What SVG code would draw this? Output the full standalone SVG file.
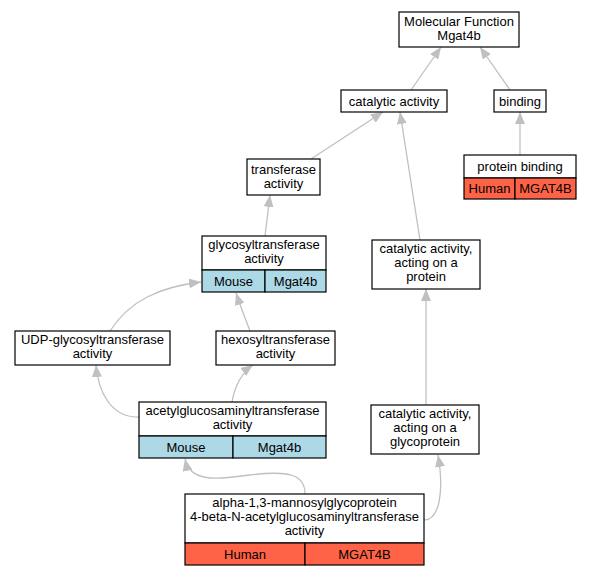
<svg xmlns="http://www.w3.org/2000/svg" width="592" height="576" viewBox="0 0 592 576">
<style>
.box{fill:#fff;stroke:#000;stroke-width:1.2}
.blue{fill:#add8e6;stroke:#000;stroke-width:1.2}
.red{fill:#ff6347;stroke:#000;stroke-width:1.2}
text{font-family:"Liberation Sans",Arial,sans-serif;font-size:13px;text-anchor:middle;fill:#000}
.edge{fill:none;stroke:#c0c0c0;stroke-width:1.3;marker-end:url(#arr)}
</style>
<defs>
<marker id="arr" markerUnits="userSpaceOnUse" markerWidth="13" markerHeight="10" viewBox="0 0 13 10" refX="12" refY="5" orient="auto">
<path d="M0,0 L12,5 L0,10 Z" fill="#c0c0c0"/>
</marker>
</defs>
<rect width="592" height="576" fill="#fff"/>
<g id="edges">
<path class="edge" d="M411,90 L441,47"/>
<path class="edge" d="M510,90 L480,47"/>
<path class="edge" d="M520,155 L520,112"/>
<path class="edge" d="M311,159 L383,112"/>
<path class="edge" d="M420,240 L400,112"/>
<path class="edge" d="M265,236 L270,195"/>
<path class="edge" d="M110,331 C130,300 160,287 201,282"/>
<path class="edge" d="M250,331 C245,318 240,305 236,293"/>
<path class="edge" d="M139,417 C110,418 98,390 96,365"/>
<path class="edge" d="M232,402 C235,385 243,372 253,365"/>
<path class="edge" d="M305,494 C305,475 290,470 250,475 C215,480 190,482 185,459"/>
<path class="edge" d="M424,520 C440,520 444,490 438,455"/>
<path class="edge" d="M426,405 L426,289"/>
</g>
<g id="mf">
<rect class="box" x="399" y="12" width="120" height="35"/>
<text x="459" y="26">Molecular Function</text>
<text x="459" y="40">Mgat4b</text>
</g>
<g id="catalytic">
<rect class="box" x="341" y="90" width="106" height="22"/>
<text x="394" y="105.5">catalytic activity</text>
</g>
<g id="binding">
<rect class="box" x="494" y="90" width="52" height="22"/>
<text x="520" y="105.5">binding</text>
</g>
<g id="proteinbinding">
<rect class="box" x="464" y="155" width="112" height="23"/>
<text x="520" y="170.5">protein binding</text>
<rect class="red" x="464" y="178" width="51" height="21"/>
<rect class="red" x="515" y="178" width="61" height="21"/>
<text x="489.5" y="192.5">Human</text>
<text x="545.5" y="192.5">MGAT4B</text>
</g>
<g id="transferase">
<rect class="box" x="247" y="159" width="73" height="36"/>
<text x="283.5" y="174">transferase</text>
<text x="283.5" y="188">activity</text>
</g>
<g id="glyco">
<rect class="box" x="202" y="236" width="124" height="34"/>
<text x="264" y="249">glycosyltransferase</text>
<text x="264" y="263">activity</text>
<rect class="blue" x="202" y="270" width="63" height="22"/>
<rect class="blue" x="265" y="270" width="61" height="22"/>
<text x="233.5" y="285.5">Mouse</text>
<text x="295.5" y="285.5">Mgat4b</text>
</g>
<g id="catprot">
<rect class="box" x="372" y="240" width="108" height="49"/>
<text x="426" y="253">catalytic activity,</text>
<text x="426" y="267">acting on a</text>
<text x="426" y="281">protein</text>
</g>
<g id="udp">
<rect class="box" x="15" y="331" width="155" height="34"/>
<text x="92.5" y="344">UDP-glycosyltransferase</text>
<text x="92.5" y="358">activity</text>
</g>
<g id="hexosyl">
<rect class="box" x="216" y="331" width="119" height="34"/>
<text x="275.5" y="344">hexosyltransferase</text>
<text x="275.5" y="358">activity</text>
</g>
<g id="acetyl">
<rect class="box" x="139" y="402" width="187" height="34"/>
<text x="232.5" y="415">acetylglucosaminyltransferase</text>
<text x="232.5" y="429">activity</text>
<rect class="blue" x="139" y="436" width="94" height="22"/>
<rect class="blue" x="233" y="436" width="93" height="22"/>
<text x="186" y="451.5">Mouse</text>
<text x="279.5" y="451.5">Mgat4b</text>
</g>
<g id="catglyco">
<rect class="box" x="371" y="405" width="108" height="49"/>
<text x="425" y="418">catalytic activity,</text>
<text x="425" y="432">acting on a</text>
<text x="425" y="446">glycoprotein</text>
</g>
<g id="alpha">
<rect class="box" x="185" y="494" width="239" height="49"/>
<text x="304.5" y="507">alpha-1,3-mannosylglycoprotein</text>
<text x="304.5" y="521">4-beta-N-acetylglucosaminyltransferase</text>
<text x="304.5" y="535">activity</text>
<rect class="red" x="185" y="543" width="120" height="22"/>
<rect class="red" x="305" y="543" width="119" height="22"/>
<text x="245" y="558.5">Human</text>
<text x="364.5" y="558.5">MGAT4B</text>
</g>
</svg>
